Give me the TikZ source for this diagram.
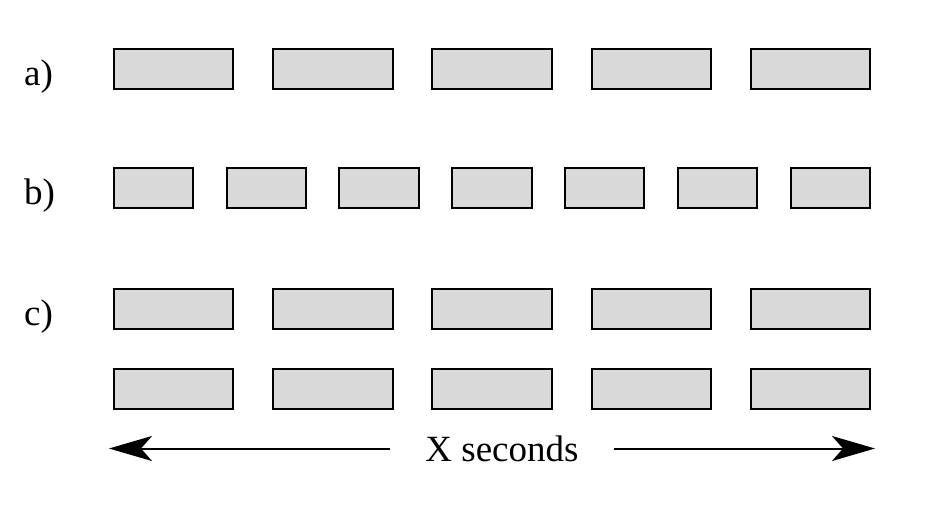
\documentclass[tikz,border=0pt]{standalone}
\usepackage{fontspec}
\setmainfont{Liberation Serif}
\usetikzlibrary{arrows.meta}
\definecolor{boxgray}{HTML}{D9D9D9}
\tikzset{
  slot/.style={draw=black, line width=2pt, fill=boxgray, minimum height=40pt, inner sep=0pt},
  wide/.style={slot, minimum width=119.5pt},
  narrow/.style={slot, minimum width=79.5pt},
  lbl/.style={anchor=base west, inner sep=0pt, font=\fontsize{37}{40}\selectfont},
  arr/.style={line width=2pt, -{Stealth[length=43pt, width=25pt, inset=11pt]}}
}
\begin{document}
\begin{tikzpicture}[x=1pt, y=-1pt]
\useasboundingbox (0,0) rectangle (941,505);
% labels
\node[lbl] (la) at (24,86) {a)};
\node[lbl] (lb) at (24,204.5) {b)};
\node[lbl] (lc) at (24,325) {c)};
% row a
\foreach \i in {0,...,4} {
  \node[wide] (a\i) at ({173.5+\i*159.25},69.5) {};
}
% row b
\foreach \i in {0,...,6} {
  \node[narrow] (b\i) at ({153.5+\i*112.8},188) {};
}
% row c
\foreach \i in {0,...,4} {
  \node[wide] (c\i) at ({173.5+\i*159.25},308.5) {};
  \node[wide] (d\i) at ({173.5+\i*159.25},388.5) {};
}
% arrow
\coordinate (L) at (109,448.5);
\coordinate (R) at (875,448.5);
\node[font=\fontsize{37}{40}\selectfont, text height=25pt, text depth=0pt, inner xsep=35pt, inner ysep=0pt] (xs) at (502,448.5) {X seconds};
\draw[arr] (xs.west) -- (L);
\draw[arr] (xs.east) -- (R);
\end{tikzpicture}
\end{document}
